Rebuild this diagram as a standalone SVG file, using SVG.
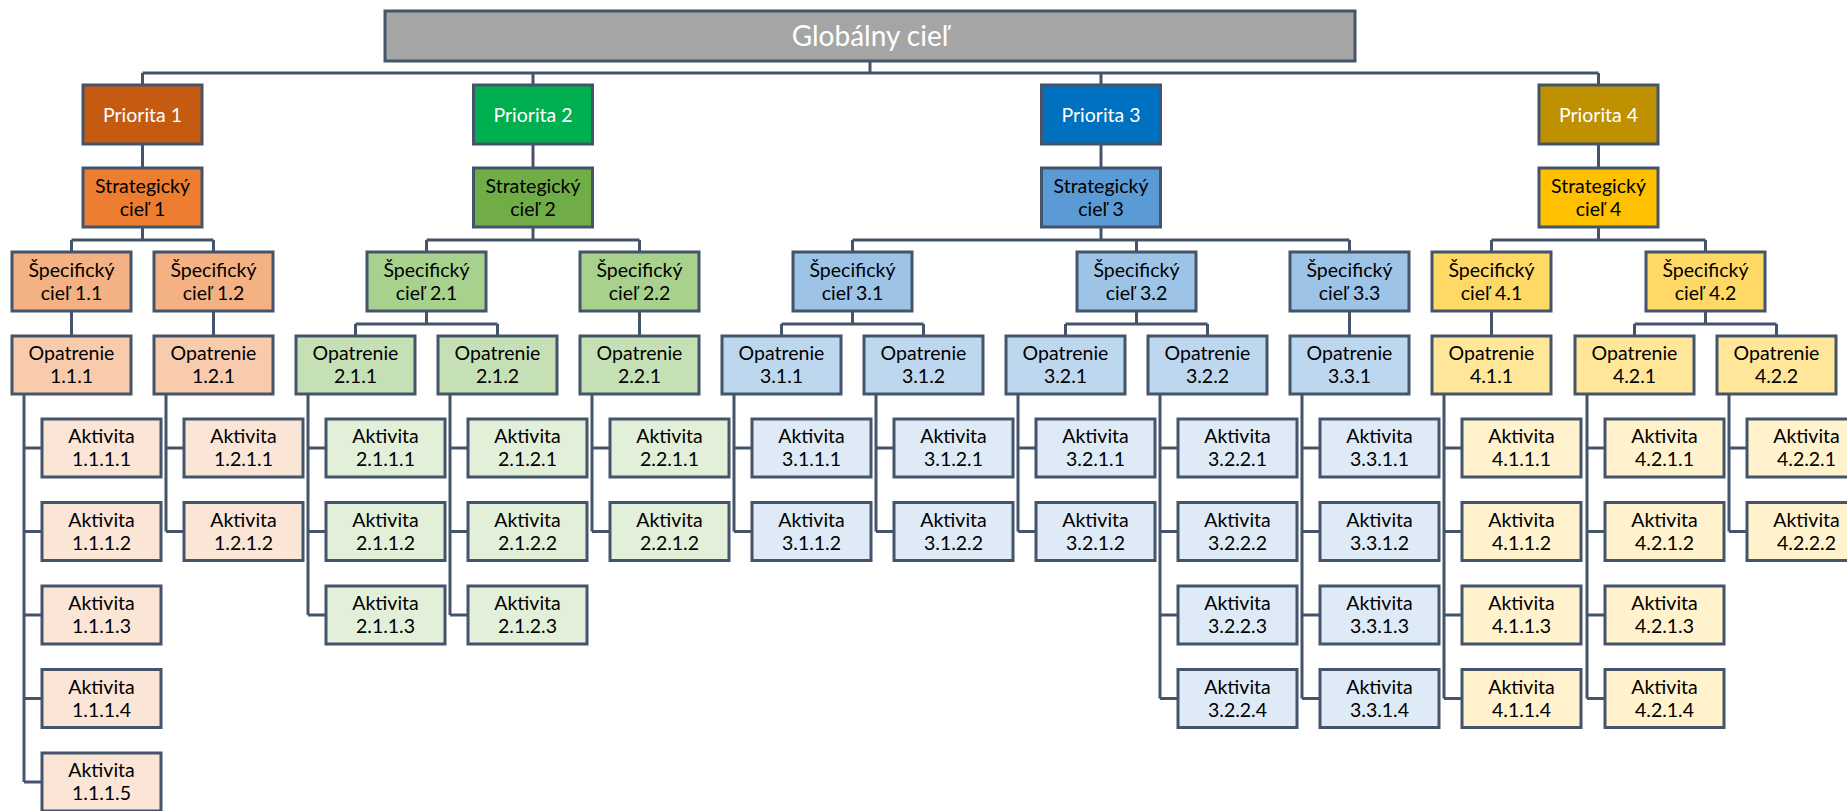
<svg xmlns="http://www.w3.org/2000/svg" width="1847" height="811" viewBox="0 0 1847 811">
<style>
.b{stroke:#44546A;stroke-width:3}
.c{fill:none;stroke:#44546A;stroke-width:3}
.t{font-family:Lato,"Liberation Sans",sans-serif;font-size:19.5px;text-anchor:middle;fill:#000}
.w{fill:#fff}
.g{font-size:28px}
.gl{fill:#A5A5A5}
.p1{fill:#C55A11}.p2{fill:#00B050}.p3{fill:#0070C0}.p4{fill:#BF9000}
.s1{fill:#ED7D31}.s2{fill:#70AD47}.s3{fill:#5B9BD5}.s4{fill:#FFC000}
.q1{fill:#F4B183}.q2{fill:#A9D18E}.q3{fill:#9DC3E6}.q4{fill:#FFD966}
.o1{fill:#F8CBAD}.o2{fill:#C5E0B4}.o3{fill:#BDD7EE}.o4{fill:#FFE699}
.a1{fill:#FBE5D6}.a2{fill:#E2F0D9}.a3{fill:#DEEBF7}.a4{fill:#FFF2CC}
</style>
<rect width="1847" height="811" fill="#fff"/>
<g id="connectors">
<path class="c" d="M870,61V73 M142.5,73H1598.5 M142.5,73V85 M533,73V85 M1101,73V85 M1598.5,73V85"/>
<path class="c" d="M142.5,144V168 M533,144V168 M1101,144V168 M1598.5,144V168"/>
<path class="c" d="M142.5,227V240 M71.5,240H213.5 M71.5,240V252 M213.5,240V252 M533,227V240 M426.5,240H639.5 M426.5,240V252 M639.5,240V252 M1101,227V240 M852.5,240H1349.5 M852.5,240V252 M1136.5,240V252 M1349.5,240V252 M1598.5,227V240 M1491.5,240H1705.5 M1491.5,240V252 M1705.5,240V252"/>
<path class="c" d="M71.5,311V336 M213.5,311V336 M426.5,311V324 M355.5,324H497.5 M355.5,324V336 M497.5,324V336 M639.5,311V336 M852.5,311V324 M781.5,324H923.5 M781.5,324V336 M923.5,324V336 M1136.5,311V324 M1065.5,324H1207.5 M1065.5,324V336 M1207.5,324V336 M1349.5,311V336 M1491.5,311V336 M1705.5,311V324 M1634.5,324H1776.5 M1634.5,324V336 M1776.5,324V336"/>
<path class="c" d="M24,394V782 M24,448H42 M24,531.5H42 M24,615H42 M24,698.5H42 M24,782H42
M166,394V531.5 M166,448H184 M166,531.5H184
M308,394V615 M308,448H326 M308,531.5H326 M308,615H326
M450,394V615 M450,448H468 M450,531.5H468 M450,615H468
M592,394V531.5 M592,448H610 M592,531.5H610
M734,394V531.5 M734,448H752 M734,531.5H752
M876,394V531.5 M876,448H894 M876,531.5H894
M1018,394V531.5 M1018,448H1036 M1018,531.5H1036
M1160,394V698.5 M1160,448H1178 M1160,531.5H1178 M1160,615H1178 M1160,698.5H1178
M1302,394V698.5 M1302,448H1320 M1302,531.5H1320 M1302,615H1320 M1302,698.5H1320
M1444,394V698.5 M1444,448H1462 M1444,531.5H1462 M1444,615H1462 M1444,698.5H1462
M1587,394V698.5 M1587,448H1605 M1587,531.5H1605 M1587,615H1605 M1587,698.5H1605
M1729,394V531.5 M1729,448H1747 M1729,531.5H1747"/>
</g>
<g id="global"><rect class="b gl" x="385" y="11" width="970" height="50"/><text class="t w g" x="870" y="46">Globálny cieľ</text></g>
<g id="p1"><rect class="b p1" x="83" y="85" width="119" height="59"/><text class="t w" x="142.5" y="122">Priorita 1</text></g>
<g id="p2"><rect class="b p2" x="473.5" y="85" width="119" height="59"/><text class="t w" x="533" y="122">Priorita 2</text></g>
<g id="p3"><rect class="b p3" x="1041.5" y="85" width="119" height="59"/><text class="t w" x="1101" y="122">Priorita 3</text></g>
<g id="p4"><rect class="b p4" x="1539" y="85" width="119" height="59"/><text class="t w" x="1598.5" y="122">Priorita 4</text></g>
<g id="sc1"><rect class="b s1" x="83" y="168" width="119" height="59"/><text class="t"><tspan x="142.5" y="192.5">Strategický</tspan><tspan x="142.5" y="215.5">cieľ 1</tspan></text></g>
<g id="sc2"><rect class="b s2" x="473.5" y="168" width="119" height="59"/><text class="t"><tspan x="533" y="192.5">Strategický</tspan><tspan x="533" y="215.5">cieľ 2</tspan></text></g>
<g id="sc3"><rect class="b s3" x="1041.5" y="168" width="119" height="59"/><text class="t"><tspan x="1101" y="192.5">Strategický</tspan><tspan x="1101" y="215.5">cieľ 3</tspan></text></g>
<g id="sc4"><rect class="b s4" x="1539" y="168" width="119" height="59"/><text class="t"><tspan x="1598.5" y="192.5">Strategický</tspan><tspan x="1598.5" y="215.5">cieľ 4</tspan></text></g>
<g id="sp11"><rect class="b q1" x="12" y="252" width="119" height="59"/><text class="t"><tspan x="71.5" y="276.5">Špecifický</tspan><tspan x="71.5" y="299.5">cieľ 1.1</tspan></text></g>
<g id="sp12"><rect class="b q1" x="154" y="252" width="119" height="59"/><text class="t"><tspan x="213.5" y="276.5">Špecifický</tspan><tspan x="213.5" y="299.5">cieľ 1.2</tspan></text></g>
<g id="sp21"><rect class="b q2" x="367" y="252" width="119" height="59"/><text class="t"><tspan x="426.5" y="276.5">Špecifický</tspan><tspan x="426.5" y="299.5">cieľ 2.1</tspan></text></g>
<g id="sp22"><rect class="b q2" x="580" y="252" width="119" height="59"/><text class="t"><tspan x="639.5" y="276.5">Špecifický</tspan><tspan x="639.5" y="299.5">cieľ 2.2</tspan></text></g>
<g id="sp31"><rect class="b q3" x="793" y="252" width="119" height="59"/><text class="t"><tspan x="852.5" y="276.5">Špecifický</tspan><tspan x="852.5" y="299.5">cieľ 3.1</tspan></text></g>
<g id="sp32"><rect class="b q3" x="1077" y="252" width="119" height="59"/><text class="t"><tspan x="1136.5" y="276.5">Špecifický</tspan><tspan x="1136.5" y="299.5">cieľ 3.2</tspan></text></g>
<g id="sp33"><rect class="b q3" x="1290" y="252" width="119" height="59"/><text class="t"><tspan x="1349.5" y="276.5">Špecifický</tspan><tspan x="1349.5" y="299.5">cieľ 3.3</tspan></text></g>
<g id="sp41"><rect class="b q4" x="1432" y="252" width="119" height="59"/><text class="t"><tspan x="1491.5" y="276.5">Špecifický</tspan><tspan x="1491.5" y="299.5">cieľ 4.1</tspan></text></g>
<g id="sp42"><rect class="b q4" x="1646" y="252" width="119" height="59"/><text class="t"><tspan x="1705.5" y="276.5">Špecifický</tspan><tspan x="1705.5" y="299.5">cieľ 4.2</tspan></text></g>
<g id="op111"><rect class="b o1" x="12" y="336" width="119" height="58"/><text class="t"><tspan x="71.5" y="360">Opatrenie</tspan><tspan x="71.5" y="383">1.1.1</tspan></text></g>
<g id="op121"><rect class="b o1" x="154" y="336" width="119" height="58"/><text class="t"><tspan x="213.5" y="360">Opatrenie</tspan><tspan x="213.5" y="383">1.2.1</tspan></text></g>
<g id="op211"><rect class="b o2" x="296" y="336" width="119" height="58"/><text class="t"><tspan x="355.5" y="360">Opatrenie</tspan><tspan x="355.5" y="383">2.1.1</tspan></text></g>
<g id="op212"><rect class="b o2" x="438" y="336" width="119" height="58"/><text class="t"><tspan x="497.5" y="360">Opatrenie</tspan><tspan x="497.5" y="383">2.1.2</tspan></text></g>
<g id="op221"><rect class="b o2" x="580" y="336" width="119" height="58"/><text class="t"><tspan x="639.5" y="360">Opatrenie</tspan><tspan x="639.5" y="383">2.2.1</tspan></text></g>
<g id="op311"><rect class="b o3" x="722" y="336" width="119" height="58"/><text class="t"><tspan x="781.5" y="360">Opatrenie</tspan><tspan x="781.5" y="383">3.1.1</tspan></text></g>
<g id="op312"><rect class="b o3" x="864" y="336" width="119" height="58"/><text class="t"><tspan x="923.5" y="360">Opatrenie</tspan><tspan x="923.5" y="383">3.1.2</tspan></text></g>
<g id="op321"><rect class="b o3" x="1006" y="336" width="119" height="58"/><text class="t"><tspan x="1065.5" y="360">Opatrenie</tspan><tspan x="1065.5" y="383">3.2.1</tspan></text></g>
<g id="op322"><rect class="b o3" x="1148" y="336" width="119" height="58"/><text class="t"><tspan x="1207.5" y="360">Opatrenie</tspan><tspan x="1207.5" y="383">3.2.2</tspan></text></g>
<g id="op331"><rect class="b o3" x="1290" y="336" width="119" height="58"/><text class="t"><tspan x="1349.5" y="360">Opatrenie</tspan><tspan x="1349.5" y="383">3.3.1</tspan></text></g>
<g id="op411"><rect class="b o4" x="1432" y="336" width="119" height="58"/><text class="t"><tspan x="1491.5" y="360">Opatrenie</tspan><tspan x="1491.5" y="383">4.1.1</tspan></text></g>
<g id="op421"><rect class="b o4" x="1575" y="336" width="119" height="58"/><text class="t"><tspan x="1634.5" y="360">Opatrenie</tspan><tspan x="1634.5" y="383">4.2.1</tspan></text></g>
<g id="op422"><rect class="b o4" x="1717" y="336" width="119" height="58"/><text class="t"><tspan x="1776.5" y="360">Opatrenie</tspan><tspan x="1776.5" y="383">4.2.2</tspan></text></g>
<g id="a1111"><rect class="b a1" x="42" y="419" width="119" height="58"/><text class="t"><tspan x="101.5" y="443">Aktivita</tspan><tspan x="101.5" y="466">1.1.1.1</tspan></text></g>
<g id="a1112"><rect class="b a1" x="42" y="502.5" width="119" height="58"/><text class="t"><tspan x="101.5" y="526.5">Aktivita</tspan><tspan x="101.5" y="549.5">1.1.1.2</tspan></text></g>
<g id="a1113"><rect class="b a1" x="42" y="586" width="119" height="58"/><text class="t"><tspan x="101.5" y="610">Aktivita</tspan><tspan x="101.5" y="633">1.1.1.3</tspan></text></g>
<g id="a1114"><rect class="b a1" x="42" y="669.5" width="119" height="58"/><text class="t"><tspan x="101.5" y="693.5">Aktivita</tspan><tspan x="101.5" y="716.5">1.1.1.4</tspan></text></g>
<g id="a1115"><rect class="b a1" x="42" y="753" width="119" height="58"/><text class="t"><tspan x="101.5" y="777">Aktivita</tspan><tspan x="101.5" y="800">1.1.1.5</tspan></text></g>
<g id="a1211"><rect class="b a1" x="184" y="419" width="119" height="58"/><text class="t"><tspan x="243.5" y="443">Aktivita</tspan><tspan x="243.5" y="466">1.2.1.1</tspan></text></g>
<g id="a1212"><rect class="b a1" x="184" y="502.5" width="119" height="58"/><text class="t"><tspan x="243.5" y="526.5">Aktivita</tspan><tspan x="243.5" y="549.5">1.2.1.2</tspan></text></g>
<g id="a2111"><rect class="b a2" x="326" y="419" width="119" height="58"/><text class="t"><tspan x="385.5" y="443">Aktivita</tspan><tspan x="385.5" y="466">2.1.1.1</tspan></text></g>
<g id="a2112"><rect class="b a2" x="326" y="502.5" width="119" height="58"/><text class="t"><tspan x="385.5" y="526.5">Aktivita</tspan><tspan x="385.5" y="549.5">2.1.1.2</tspan></text></g>
<g id="a2113"><rect class="b a2" x="326" y="586" width="119" height="58"/><text class="t"><tspan x="385.5" y="610">Aktivita</tspan><tspan x="385.5" y="633">2.1.1.3</tspan></text></g>
<g id="a2121"><rect class="b a2" x="468" y="419" width="119" height="58"/><text class="t"><tspan x="527.5" y="443">Aktivita</tspan><tspan x="527.5" y="466">2.1.2.1</tspan></text></g>
<g id="a2122"><rect class="b a2" x="468" y="502.5" width="119" height="58"/><text class="t"><tspan x="527.5" y="526.5">Aktivita</tspan><tspan x="527.5" y="549.5">2.1.2.2</tspan></text></g>
<g id="a2123"><rect class="b a2" x="468" y="586" width="119" height="58"/><text class="t"><tspan x="527.5" y="610">Aktivita</tspan><tspan x="527.5" y="633">2.1.2.3</tspan></text></g>
<g id="a2211"><rect class="b a2" x="610" y="419" width="119" height="58"/><text class="t"><tspan x="669.5" y="443">Aktivita</tspan><tspan x="669.5" y="466">2.2.1.1</tspan></text></g>
<g id="a2212"><rect class="b a2" x="610" y="502.5" width="119" height="58"/><text class="t"><tspan x="669.5" y="526.5">Aktivita</tspan><tspan x="669.5" y="549.5">2.2.1.2</tspan></text></g>
<g id="a3111"><rect class="b a3" x="752" y="419" width="119" height="58"/><text class="t"><tspan x="811.5" y="443">Aktivita</tspan><tspan x="811.5" y="466">3.1.1.1</tspan></text></g>
<g id="a3112"><rect class="b a3" x="752" y="502.5" width="119" height="58"/><text class="t"><tspan x="811.5" y="526.5">Aktivita</tspan><tspan x="811.5" y="549.5">3.1.1.2</tspan></text></g>
<g id="a3121"><rect class="b a3" x="894" y="419" width="119" height="58"/><text class="t"><tspan x="953.5" y="443">Aktivita</tspan><tspan x="953.5" y="466">3.1.2.1</tspan></text></g>
<g id="a3122"><rect class="b a3" x="894" y="502.5" width="119" height="58"/><text class="t"><tspan x="953.5" y="526.5">Aktivita</tspan><tspan x="953.5" y="549.5">3.1.2.2</tspan></text></g>
<g id="a3211"><rect class="b a3" x="1036" y="419" width="119" height="58"/><text class="t"><tspan x="1095.5" y="443">Aktivita</tspan><tspan x="1095.5" y="466">3.2.1.1</tspan></text></g>
<g id="a3212"><rect class="b a3" x="1036" y="502.5" width="119" height="58"/><text class="t"><tspan x="1095.5" y="526.5">Aktivita</tspan><tspan x="1095.5" y="549.5">3.2.1.2</tspan></text></g>
<g id="a3221"><rect class="b a3" x="1178" y="419" width="119" height="58"/><text class="t"><tspan x="1237.5" y="443">Aktivita</tspan><tspan x="1237.5" y="466">3.2.2.1</tspan></text></g>
<g id="a3222"><rect class="b a3" x="1178" y="502.5" width="119" height="58"/><text class="t"><tspan x="1237.5" y="526.5">Aktivita</tspan><tspan x="1237.5" y="549.5">3.2.2.2</tspan></text></g>
<g id="a3223"><rect class="b a3" x="1178" y="586" width="119" height="58"/><text class="t"><tspan x="1237.5" y="610">Aktivita</tspan><tspan x="1237.5" y="633">3.2.2.3</tspan></text></g>
<g id="a3224"><rect class="b a3" x="1178" y="669.5" width="119" height="58"/><text class="t"><tspan x="1237.5" y="693.5">Aktivita</tspan><tspan x="1237.5" y="716.5">3.2.2.4</tspan></text></g>
<g id="a3311"><rect class="b a3" x="1320" y="419" width="119" height="58"/><text class="t"><tspan x="1379.5" y="443">Aktivita</tspan><tspan x="1379.5" y="466">3.3.1.1</tspan></text></g>
<g id="a3312"><rect class="b a3" x="1320" y="502.5" width="119" height="58"/><text class="t"><tspan x="1379.5" y="526.5">Aktivita</tspan><tspan x="1379.5" y="549.5">3.3.1.2</tspan></text></g>
<g id="a3313"><rect class="b a3" x="1320" y="586" width="119" height="58"/><text class="t"><tspan x="1379.5" y="610">Aktivita</tspan><tspan x="1379.5" y="633">3.3.1.3</tspan></text></g>
<g id="a3314"><rect class="b a3" x="1320" y="669.5" width="119" height="58"/><text class="t"><tspan x="1379.5" y="693.5">Aktivita</tspan><tspan x="1379.5" y="716.5">3.3.1.4</tspan></text></g>
<g id="a4111"><rect class="b a4" x="1462" y="419" width="119" height="58"/><text class="t"><tspan x="1521.5" y="443">Aktivita</tspan><tspan x="1521.5" y="466">4.1.1.1</tspan></text></g>
<g id="a4112"><rect class="b a4" x="1462" y="502.5" width="119" height="58"/><text class="t"><tspan x="1521.5" y="526.5">Aktivita</tspan><tspan x="1521.5" y="549.5">4.1.1.2</tspan></text></g>
<g id="a4113"><rect class="b a4" x="1462" y="586" width="119" height="58"/><text class="t"><tspan x="1521.5" y="610">Aktivita</tspan><tspan x="1521.5" y="633">4.1.1.3</tspan></text></g>
<g id="a4114"><rect class="b a4" x="1462" y="669.5" width="119" height="58"/><text class="t"><tspan x="1521.5" y="693.5">Aktivita</tspan><tspan x="1521.5" y="716.5">4.1.1.4</tspan></text></g>
<g id="a4211"><rect class="b a4" x="1605" y="419" width="119" height="58"/><text class="t"><tspan x="1664.5" y="443">Aktivita</tspan><tspan x="1664.5" y="466">4.2.1.1</tspan></text></g>
<g id="a4212"><rect class="b a4" x="1605" y="502.5" width="119" height="58"/><text class="t"><tspan x="1664.5" y="526.5">Aktivita</tspan><tspan x="1664.5" y="549.5">4.2.1.2</tspan></text></g>
<g id="a4213"><rect class="b a4" x="1605" y="586" width="119" height="58"/><text class="t"><tspan x="1664.5" y="610">Aktivita</tspan><tspan x="1664.5" y="633">4.2.1.3</tspan></text></g>
<g id="a4214"><rect class="b a4" x="1605" y="669.5" width="119" height="58"/><text class="t"><tspan x="1664.5" y="693.5">Aktivita</tspan><tspan x="1664.5" y="716.5">4.2.1.4</tspan></text></g>
<g id="a4221"><rect class="b a4" x="1747" y="419" width="119" height="58"/><text class="t"><tspan x="1806.5" y="443">Aktivita</tspan><tspan x="1806.5" y="466">4.2.2.1</tspan></text></g>
<g id="a4222"><rect class="b a4" x="1747" y="502.5" width="119" height="58"/><text class="t"><tspan x="1806.5" y="526.5">Aktivita</tspan><tspan x="1806.5" y="549.5">4.2.2.2</tspan></text></g>
</svg>
